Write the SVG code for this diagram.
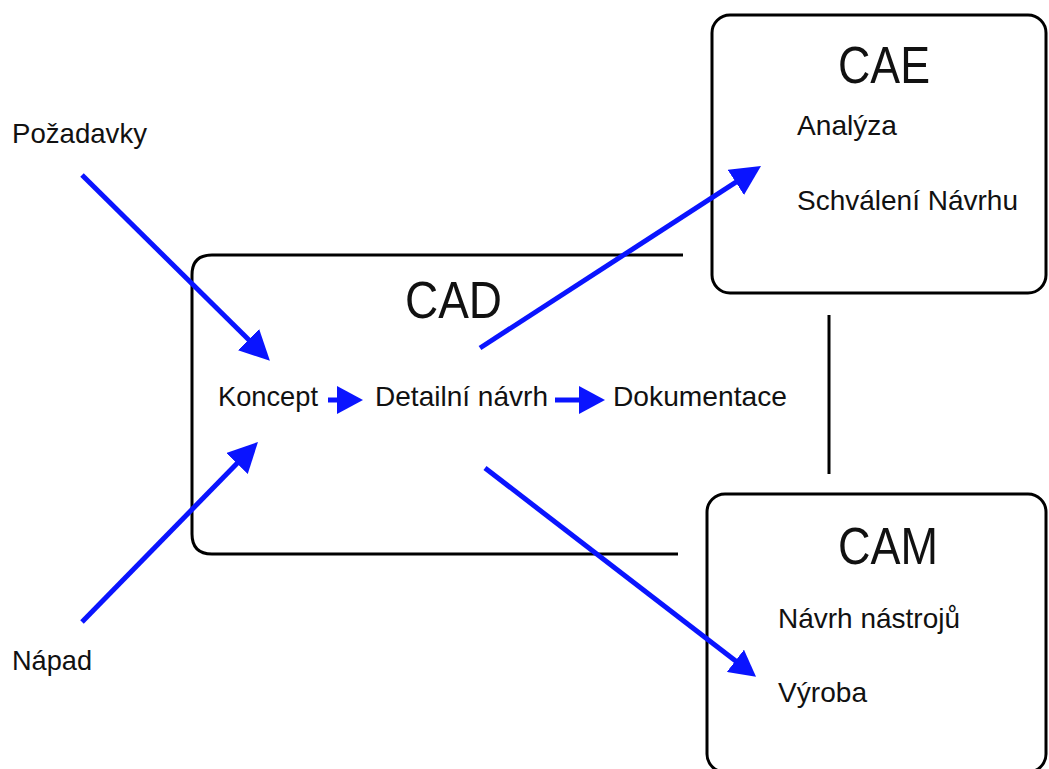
<svg xmlns="http://www.w3.org/2000/svg" width="1049" height="769" viewBox="0 0 1049 769">
<style>
.box{fill:none;stroke:#000;stroke-width:3}
.t{font-family:"Liberation Sans",Arial,sans-serif;fill:#111}
.s{font-size:28px}
.h{font-size:52px}
.c{fill:none;stroke:#0a14ff;stroke-width:5}
</style>
<defs>
<marker id="big" markerUnits="userSpaceOnUse" markerWidth="30" markerHeight="30" viewBox="0 0 30 30" refX="2" refY="15" orient="auto">
<path d="M0,0 L30,15 L0,30 z" fill="#0a14ff"/>
</marker>
<marker id="small" markerUnits="userSpaceOnUse" markerWidth="26" markerHeight="28" viewBox="0 0 26 28" refX="2" refY="14" orient="auto">
<path d="M0,0 L26,14 L0,28 z" fill="#0a14ff"/>
</marker>
</defs>
<rect width="1049" height="769" fill="#fff"/>
<g id="cad">
<path class="box" d="M683,255 H212 Q192,255 192,275 V534 Q192,554 212,554 H678"/>
<text class="t h" x="405" y="318" textLength="97" lengthAdjust="spacingAndGlyphs">CAD</text>
<text class="t s" x="218" y="406" textLength="100" lengthAdjust="spacingAndGlyphs">Koncept</text>
<text class="t s" x="375" y="406" textLength="173" lengthAdjust="spacingAndGlyphs">Detailní návrh</text>
<text class="t s" x="613" y="406" textLength="174" lengthAdjust="spacingAndGlyphs">Dokumentace</text>
</g>
<g id="cae">
<rect class="box" x="712" y="15" width="334" height="278" rx="18"/>
<text class="t h" x="838" y="83" textLength="92" lengthAdjust="spacingAndGlyphs">CAE</text>
<text class="t s" x="797" y="135" textLength="100" lengthAdjust="spacingAndGlyphs">Analýza</text>
<text class="t s" x="797" y="210" textLength="221" lengthAdjust="spacingAndGlyphs">Schválení Návrhu</text>
</g>
<g id="cam">
<rect class="box" x="707" y="494" width="339" height="278" rx="18"/>
<text class="t h" x="838" y="564" textLength="100" lengthAdjust="spacingAndGlyphs">CAM</text>
<text class="t s" x="778" y="628" textLength="182" lengthAdjust="spacingAndGlyphs">Návrh nástrojů</text>
<text class="t s" x="778" y="702" textLength="89" lengthAdjust="spacingAndGlyphs">Výroba</text>
</g>
<g id="pozadavky">
<text class="t s" x="12" y="143" textLength="135" lengthAdjust="spacingAndGlyphs">Požadavky</text>
</g>
<g id="napad">
<text class="t s" x="12" y="670" textLength="80" lengthAdjust="spacingAndGlyphs">Nápad</text>
</g>
<g id="connectors">
<line x1="829" y1="315" x2="829" y2="474" stroke="#000" stroke-width="3"/>
<line class="c" x1="82" y1="175" x2="250" y2="341" marker-end="url(#big)"/>
<line class="c" x1="82" y1="622" x2="238.4" y2="462" marker-end="url(#big)"/>
<line class="c" x1="328" y1="400" x2="339" y2="400" marker-end="url(#small)"/>
<line class="c" x1="555" y1="400" x2="581" y2="400" marker-end="url(#small)"/>
<line class="c" x1="480" y1="348" x2="737.5" y2="181.2" marker-end="url(#big)"/>
<line class="c" x1="485" y1="468" x2="737" y2="662" marker-end="url(#small)"/>
</g>
</svg>
